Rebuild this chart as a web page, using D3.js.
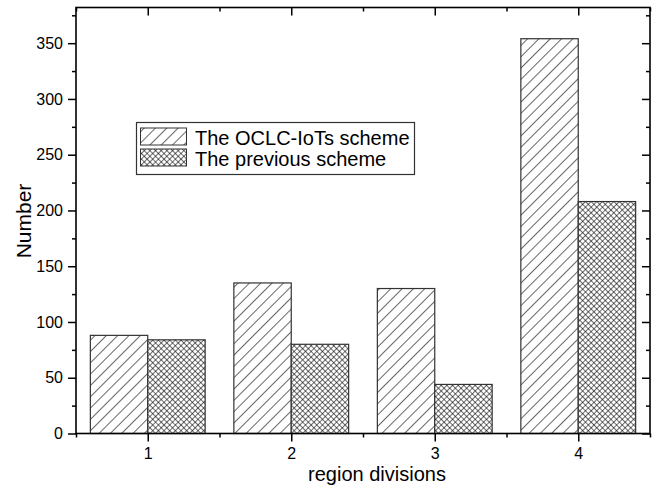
<!DOCTYPE html>
<html>
<head>
<meta charset="utf-8">
<script src="https://cdn.jsdelivr.net/npm/d3@7/dist/d3.min.js"></script>
<style>
  html, body { margin: 0; padding: 0; background: #fff; }
  svg { display: block; }
  text { font-family: "Liberation Sans", Arial, sans-serif; fill: #000; }
</style>
</head>
<body>
<svg id="chart" width="659" height="487"></svg>
<script>
// ---- data ----
const categories = [1, 2, 3, 4];
const seriesNames = ["The OCLC-IoTs scheme", "The previous scheme"];
const oclcValues = [88, 135, 130, 354];
const previousValues = [84, 80, 44, 208];
const yTickValues = [0, 50, 100, 150, 200, 250, 300, 350];
const xTickLabels = ["1", "2", "3", "4"];

const svg = d3.select("#chart");
const W = 659, H = 487;
const m = { left: 76, right: 9, top: 7.5, bottom: 53.5 };

const x = d3.scaleLinear().domain([0.5, 4.5]).range([m.left, W - m.right]);
const y = d3.scaleLinear().domain([0, 382]).range([H - m.bottom, m.top]);

// patterns
const defs = svg.append("defs");
const hatch = defs.append("pattern")
  .attr("id", "hatch").attr("patternUnits", "userSpaceOnUse")
  .attr("width", 8).attr("height", 8)
  .attr("patternTransform", "rotate(45)");
hatch.append("rect").attr("width", 8).attr("height", 8).attr("fill", "#fff");
hatch.append("line").attr("x1", 0).attr("y1", 0).attr("x2", 0).attr("y2", 8)
  .attr("stroke", "#000").attr("stroke-width", 1.2);

const cross = defs.append("pattern")
  .attr("id", "cross").attr("patternUnits", "userSpaceOnUse")
  .attr("width", 4).attr("height", 4)
  .attr("patternTransform", "rotate(45)");
cross.append("rect").attr("width", 4).attr("height", 4).attr("fill", "#fff");
cross.append("line").attr("x1", 0).attr("y1", 0).attr("x2", 0).attr("y2", 4)
  .attr("stroke", "#000").attr("stroke-width", 1.15);
cross.append("line").attr("x1", 0).attr("y1", 0).attr("x2", 4).attr("y2", 0)
  .attr("stroke", "#000").attr("stroke-width", 1.15);

const fills = ["url(#hatch)", "url(#cross)"];
const seriesData = [oclcValues, previousValues];
const barW = 0.4;

seriesData.forEach((vals, si) => {
  svg.append("g").selectAll("rect")
    .data(categories.map((c, i) => ({ c, v: vals[i] })))
    .join("rect")
    .attr("x", d => si === 0 ? x(d.c - barW) : x(d.c))
    .attr("width", d => x(d.c + barW) - x(d.c))
    .attr("y", d => y(d.v))
    .attr("height", d => y(0) - y(d.v))
    .attr("fill", fills[si])
    .attr("stroke", "#333")
    .attr("stroke-width", 1.2);
});

// axes
const minorY = d3.range(0, 382, 25).filter(v => v % 50 !== 0);
const minorX = [0.5, 1.5, 2.5, 3.5, 4.5];

const axStyle = g => {
  g.select(".domain").remove();
  g.selectAll(".tick line").attr("stroke", "#000").attr("stroke-width", 1.5);
  g.selectAll(".tick text").attr("font-size", 16).attr("fill", "#000")
    .attr("font-family", "'Liberation Sans', Arial, sans-serif");
};

// left
svg.append("g").attr("transform", `translate(${m.left},0)`)
  .call(d3.axisLeft(y).tickValues(yTickValues).tickSize(8).tickPadding(5).tickFormat(d3.format("d")))
  .call(axStyle);
svg.append("g").attr("transform", `translate(${m.left},0)`)
  .call(d3.axisLeft(y).tickValues(minorY).tickSize(4).tickFormat(""))
  .call(axStyle);
// right (inward)
svg.append("g").attr("transform", `translate(${W - m.right},0)`)
  .call(d3.axisLeft(y).tickValues(yTickValues).tickSize(8).tickFormat(""))
  .call(axStyle);
svg.append("g").attr("transform", `translate(${W - m.right},0)`)
  .call(d3.axisLeft(y).tickValues(minorY).tickSize(4).tickFormat(""))
  .call(axStyle);
// bottom
svg.append("g").attr("transform", `translate(0,${H - m.bottom})`)
  .call(d3.axisBottom(x).tickValues(categories).tickSize(8).tickPadding(6)
    .tickFormat((d, i) => xTickLabels[i]))
  .call(axStyle);
svg.append("g").attr("transform", `translate(0,${H - m.bottom})`)
  .call(d3.axisBottom(x).tickValues(minorX).tickSize(4).tickFormat(""))
  .call(axStyle);
// top (inward)
svg.append("g").attr("transform", `translate(0,${m.top})`)
  .call(d3.axisBottom(x).tickValues(categories).tickSize(8).tickFormat(""))
  .call(axStyle);
svg.append("g").attr("transform", `translate(0,${m.top})`)
  .call(d3.axisBottom(x).tickValues(minorX).tickSize(4).tickFormat(""))
  .call(axStyle);

// frame
svg.append("rect")
  .attr("x", m.left).attr("y", m.top)
  .attr("width", W - m.right - m.left).attr("height", H - m.bottom - m.top)
  .attr("fill", "none").attr("stroke", "#000").attr("stroke-width", 1.6);

// axis titles
svg.append("text").attr("x", 377).attr("y", 481)
  .attr("text-anchor", "middle").attr("font-size", 20).text("region divisions");
svg.append("text").attr("transform", "translate(31,221) rotate(-90)")
  .attr("text-anchor", "middle").attr("font-size", 21).text("Number");

// legend
const lg = svg.append("g");
lg.append("rect").attr("x", 136.5).attr("y", 122.5).attr("width", 278).attr("height", 52)
  .attr("fill", "#fff").attr("stroke", "#333").attr("stroke-width", 1.2);
seriesNames.forEach((name, i) => {
  const yy = 128 + i * 21;
  lg.append("rect").attr("x", 140.5).attr("y", yy).attr("width", 46).attr("height", 17)
    .attr("fill", fills[i]).attr("stroke", "#333").attr("stroke-width", 1);
  lg.append("text").attr("x", 195).attr("y", yy + 17)
    .attr("font-size", 20).text(name);
});
</script>
</body>
</html>
